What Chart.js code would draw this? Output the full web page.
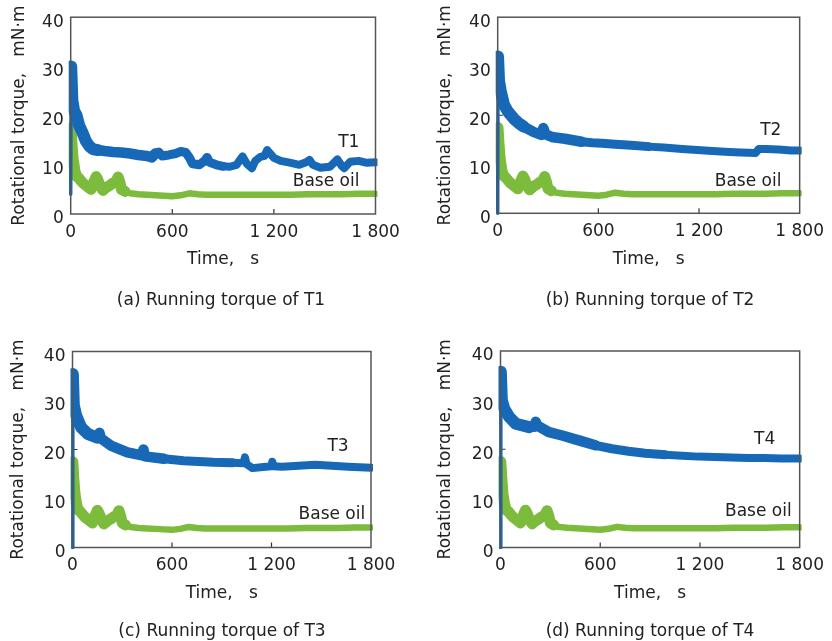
<!DOCTYPE html>
<html>
<head>
<meta charset="utf-8">
<script src="https://cdn.jsdelivr.net/npm/chart.js@4.4.1/dist/chart.umd.min.js"></script>
<style>
    body { margin: 0; background: #fff; width: 832px; height: 641px; position: relative; overflow: hidden; font-family: "DejaVu Sans", sans-serif; color: #222; }
    canvas { position: absolute; }
    .cap { position: absolute; font-size: 17px; white-space: nowrap; transform: translate(-50%, -50%); }
</style>
</head>
<body>
<script>
// axis ticks
const xTicks = [0, 600, 1200, 1800];
const xTickLabels = ['0', '600', '1 200', '1 800'];
const yTicks = [0, 10, 20, 30, 40];

// base oil (same run shown in every panel)
const baseTime   = [0, 2, 8, 15, 25, 35, 45, 60, 75, 90, 105, 120, 135, 150, 160, 175, 190, 210, 230, 250, 265, 280, 290, 300, 320, 350, 400, 450, 500, 550, 600, 650, 700, 750, 800, 900, 1000, 1100, 1200, 1300, 1400, 1500, 1600, 1700, 1800];
const baseTorque = [9.0, 17.5, 14.0, 11.0, 8.8, 7.6, 7.4, 6.8, 6.2, 5.8, 5.4, 5.0, 6.4, 7.6, 7.0, 5.6, 4.8, 5.4, 5.8, 6.3, 6.5, 7.5, 6.5, 5.0, 4.6, 4.2, 4.0, 3.9, 3.8, 3.7, 3.6, 3.8, 4.2, 4.0, 3.9, 3.9, 3.9, 3.9, 3.9, 3.9, 4.0, 4.0, 4.0, 4.1, 4.1];

// T1
const t1Time   = [0, 3, 10, 20, 35, 50, 70, 90, 110, 130, 160, 200, 250, 300, 350, 400, 450, 480, 500, 520, 540, 580, 620, 650, 680, 700, 720, 760, 790, 805, 820, 860, 900, 940, 980, 1000, 1015, 1040, 1070, 1090, 1120, 1145, 1160, 1180, 1200, 1240, 1300, 1350, 1390, 1410, 1430, 1475, 1530, 1560, 1575, 1600, 1615, 1650, 1700, 1750, 1800];
const t1Torque = [4, 30, 23, 21, 20, 18, 16.5, 14.8, 13.8, 13.2, 13.0, 12.8, 12.6, 12.5, 12.3, 12.0, 11.8, 11.5, 12.3, 12.6, 11.8, 12.0, 12.3, 12.7, 12.5, 11.5, 10.2, 10.0, 10.8, 11.5, 10.5, 10.0, 9.7, 9.6, 10.0, 11.0, 11.7, 10.2, 9.3, 10.8, 11.6, 11.8, 13.0, 12.2, 11.4, 10.8, 10.4, 10.0, 10.5, 11.0, 10.0, 9.4, 9.6, 10.6, 11.1, 9.8, 9.3, 10.6, 10.8, 10.4, 10.5];

// T2
const t2Time   = [0, 2, 8, 18, 37, 60, 96, 125, 154, 213, 260, 272, 285, 330, 400, 450, 500, 564, 620, 700, 795, 900, 990, 1100, 1190, 1280, 1380, 1450, 1538, 1555, 1600, 1675, 1750, 1800];
const t2Torque = [0, 32, 27, 25, 22.2, 20.8, 19.3, 18.4, 17.7, 16.6, 16.0, 17.4, 16.1, 15.5, 15.2, 14.9, 14.6, 14.4, 14.3, 14.1, 13.9, 13.6, 13.4, 13.1, 12.9, 12.7, 12.5, 12.4, 12.3, 13.1, 13.1, 13.0, 12.8, 12.8];

// T3
const t3Time   = [0, 2, 8, 22, 52, 92, 150, 163, 170, 231, 331, 420, 428, 436, 551, 670, 850, 965, 1030, 1040, 1050, 1085, 1165, 1200, 1205, 1212, 1264, 1364, 1464, 1563, 1663, 1800];
const t3Torque = [0, 35.4, 29, 26.9, 24.5, 23.2, 22.4, 23.4, 22.3, 20.8, 19.4, 18.8, 20.0, 18.6, 18.1, 17.7, 17.4, 17.3, 17.2, 18.4, 17.0, 16.2, 16.5, 16.6, 17.5, 16.6, 16.5, 16.7, 16.9, 16.7, 16.5, 16.3];

// T4
const t4Time   = [0, 2, 8, 22, 52, 92, 172, 205, 212, 222, 291, 371, 471, 571, 671, 770, 870, 992, 1092, 1191, 1291, 1390, 1490, 1590, 1689, 1800];
const t4Torque = [0, 35.8, 30, 28.3, 26.6, 25.2, 24.5, 24.6, 25.6, 24.8, 23.5, 22.8, 21.8, 20.8, 20.1, 19.6, 19.2, 18.9, 18.7, 18.5, 18.4, 18.3, 18.2, 18.2, 18.1, 18.1];

const BLUE = '#1769b8';
const GREEN = '#7dbb3d';
const TEXT = '#222';
const FONT = { family: 'DejaVu Sans', size: 17 };

// canvas box + where the plot frame sits on the page
const panels = [
    { name: 'T1', time: t1Time, torque: t1Torque, caption: '(a) Running torque of T1', cx: 0,   cy: 0,   h: 320, L: 70.7,  R: 375.5, T: 17,    B: 214,   titleX: 19.5, nameAt: [1705, 14.6], baseAt: [1705, 6.6], capAt: [221, 298.5] },
    { name: 'T2', time: t2Time, torque: t2Torque, caption: '(b) Running torque of T2', cx: 416, cy: 0,   h: 320, L: 497.7, R: 802.7, T: 16,    B: 213.3, titleX: 29.5, nameAt: [1691, 16.9], baseAt: [1691, 6.4], capAt: [650, 298.5] },
    { name: 'T3', time: t3Time, torque: t3Torque, caption: '(c) Running torque of T3', cx: 0,   cy: 320, h: 321, L: 72.5,  R: 371,   T: 351.5, B: 547.5, titleX: 18.5, nameAt: [1665, 20.6], baseAt: [1765, 6.8], capAt: [222, 630] },
    { name: 'T4', time: t4Time, torque: t4Torque, caption: '(d) Running torque of T4', cx: 416, cy: 320, h: 321, L: 500.5, R: 801,   T: 351,   B: 547.5, titleX: 30,   nameAt: [1653, 22.0], baseAt: [1752, 7.4], capAt: [650, 630] }
];

const X_AXIS_H = 70;

const frameTicks = {
    id: 'frameTicks',
    beforeDatasetsDraw(chart) {
        const { ctx, chartArea: a, scales: { x, y } } = chart;
        ctx.save();
        ctx.strokeStyle = '#333';
        ctx.lineWidth = 1.2;
        ctx.beginPath();
        xTicks.slice(1, -1).forEach(v => {
            const px = x.getPixelForValue(v);
            ctx.moveTo(px, a.bottom); ctx.lineTo(px, a.bottom - 5);
        });
        yTicks.slice(1, -1).forEach(v => {
            const py = y.getPixelForValue(v);
            ctx.moveTo(a.left, py); ctx.lineTo(a.left + 5, py);
        });
        ctx.stroke();
        ctx.restore();
    },
    afterDatasetsDraw(chart) {
        const { ctx, chartArea: a } = chart;
        ctx.save();
        ctx.strokeStyle = '#555';
        ctx.lineWidth = 1.5;
        ctx.strokeRect(a.left, a.top, a.right - a.left, a.bottom - a.top);
        ctx.restore();
    }
};

const seriesLabels = {
    id: 'seriesLabels',
    afterDatasetsDraw(chart, args, opts) {
        const { ctx, scales: { x, y } } = chart;
        ctx.save();
        ctx.font = `${FONT.size}px "${FONT.family}"`;
        ctx.fillStyle = TEXT;
        ctx.textAlign = 'right';
        ctx.textBaseline = 'middle';
        opts.items.forEach(it => {
            ctx.fillText(it.text, x.getPixelForValue(it.at[0]), y.getPixelForValue(it.at[1]));
        });
        ctx.restore();
    }
};

function toPoints(time, vals) {
    return time.map((t, i) => ({ x: t, y: vals[i] }));
}

function blueWidth(ctx) {
    if (ctx.p0DataIndex === 0) return 3.5;
    const t = ctx.p0.parsed.x;
    return t < 150 ? 12 : t < 500 ? 10.5 : t < 900 ? 9 : 8;
}

function greenWidth(ctx) {
    if (ctx.p0DataIndex === 0) return 4;
    return ctx.p0.parsed.x < 310 ? 11 : 6.5;
}

panels.forEach(p => {
    const cv = document.createElement('canvas');
    cv.width = 416; cv.height = p.h;
    cv.style.left = p.cx + 'px'; cv.style.top = p.cy + 'px';
    document.body.appendChild(cv);

    const cap = document.createElement('div');
    cap.className = 'cap';
    cap.textContent = p.caption;
    cap.style.left = p.capAt[0] + 'px'; cap.style.top = p.capAt[1] + 'px';
    document.body.appendChild(cap);

    new Chart(cv, {
        type: 'line',
        data: {
            datasets: [
                { label: p.name, data: toPoints(p.time, p.torque), borderColor: BLUE, pointRadius: 0, tension: 0,
                  borderCapStyle: 'round', borderJoinStyle: 'round', clip: 2,
                  segment: { borderWidth: blueWidth } },
                { label: 'Base oil', data: toPoints(baseTime, baseTorque), borderColor: GREEN, pointRadius: 0, tension: 0,
                  borderCapStyle: 'round', borderJoinStyle: 'round', clip: 2,
                  segment: { borderWidth: greenWidth } }
            ]
        },
        options: {
            responsive: false,
            animation: false,
            devicePixelRatio: 1,
            layout: { padding: { left: 0, top: p.T - p.cy, right: p.cx + 416 - p.R, bottom: p.cy + p.h - p.B - X_AXIS_H } },
            plugins: {
                legend: { display: false },
                tooltip: { enabled: false },
                seriesLabels: { items: [ { text: p.name, at: p.nameAt }, { text: 'Base oil', at: p.baseAt } ] }
            },
            scales: {
                x: {
                    type: 'linear', min: 0, max: 1800,
                    afterBuildTicks: s => { s.ticks = xTicks.map(v => ({ value: v })); },
                    afterFit: s => { s.height = X_AXIS_H; },
                    grid: { display: false, drawTicks: false },
                    border: { display: false },
                    ticks: { font: FONT, color: TEXT, padding: 8, maxRotation: 0, autoSkip: false,
                             callback: v => xTickLabels[xTicks.indexOf(v)] },
                    title: { display: true, text: 'Time,   s', font: FONT, color: TEXT, padding: { top: 0, bottom: 13.8 } }
                },
                y: {
                    min: 0, max: 40,
                    afterBuildTicks: s => { s.ticks = yTicks.map(v => ({ value: v })); },
                    afterFit: s => { s.width = p.L - p.cx; },
                    grid: { display: false, drawTicks: false },
                    border: { display: false },
                    ticks: { font: FONT, color: TEXT, padding: 7, labelOffset: 5 },
                    title: { display: true, text: 'Rotational torque,   mN·m', font: FONT, color: TEXT,
                             padding: { top: p.titleX - FONT.size * 0.6, bottom: 0 } }
                }
            }
        },
        plugins: [frameTicks, seriesLabels]
    });
});
</script>
</body>
</html>
